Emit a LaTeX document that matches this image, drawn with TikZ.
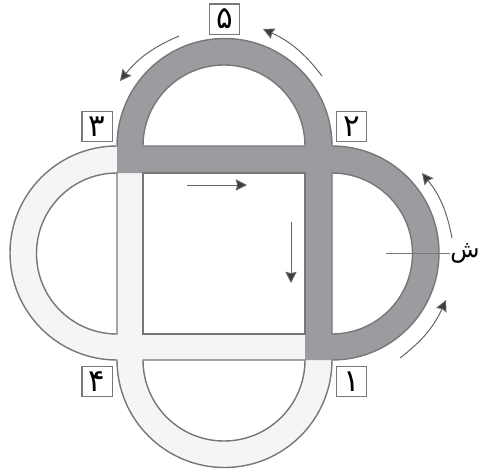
\documentclass[tikz,border=0pt]{standalone}
\usepackage{fontspec}
\usetikzlibrary{arrows.meta}
\TeXXeTstate=1
\newfontfamily\arabicfont[Script=Arabic]{DejaVu Sans}
\definecolor{bandlight}{HTML}{F5F5F5}
\definecolor{banddark}{HTML}{9A9C9F}
\definecolor{edgegray}{HTML}{777777}
\definecolor{arrowgray}{HTML}{3C3C3C}
\begin{document}
\begin{tikzpicture}[x=0.025cm,y=0.025cm]
	\tikzset{band_edge/.style={draw=edgegray,line width=1pt}}
	\tikzset{hole/.style={fill=white}}
	\tikzset{num_box/.style={draw=edgegray,line width=1pt,minimum size=0.76cm,inner sep=0pt,font=\arabicfont\fontsize{22}{22}\selectfont}}
	\tikzset{flow_arrow/.style={draw=arrowgray!80,line width=0.7pt,-{Stealth[length=8pt,width=8pt,fill=arrowgray,inset=1pt]}}}
	\useasboundingbox (0,0) rectangle (480,470);
	% bands
	\fill[bandlight] (117,324) arc[start angle=90,end angle=270,radius=107] arc[start angle=180,end angle=360,radius=107.5] -- (332,324) -- cycle;
	\fill[banddark] (117,297) -- (117,324) arc[start angle=180,end angle=0,radius=107.5] arc[start angle=90,end angle=-90,radius=107] -- (305,110) -- (305,297) -- cycle;
	% holes
	\draw[band_edge,hole] (143,324) arc[start angle=180,end angle=0,radius=81] -- cycle;
	\draw[band_edge,hole] (332,297) arc[start angle=90,end angle=-90,radius=80.5] -- cycle;
	\draw[band_edge,hole] (117,297) arc[start angle=90,end angle=270,radius=80.5] -- cycle;
	\draw[band_edge,hole] (143,110) arc[start angle=180,end angle=360,radius=81] -- cycle;
	\draw[band_edge,hole] (143,297) rectangle (305,136);
	% outer edges
	\draw[band_edge] (117,324) arc[start angle=180,end angle=0,radius=107.5];
	\draw[band_edge] (332,324) arc[start angle=90,end angle=-90,radius=107];
	\draw[band_edge] (117,324) arc[start angle=90,end angle=270,radius=107];
	\draw[band_edge] (117,110) arc[start angle=180,end angle=360,radius=107.5];
	% numbers
	\node[num_box] (n1) at (351.5,88.5) {\beginR ۱\endR};
	\node[num_box] (n2) at (351.5,343.5) {\beginR ۲\endR};
	\node[num_box] (n3) at (97,343.5) {\beginR ۳\endR};
	\node[num_box] (n4) at (97,88.5) {\beginR ۴\endR};
	\node[num_box] (n5) at (224.5,451) {\beginR ۵\endR};
	% arrows
	\draw[flow_arrow] (400,112) to[bend right=14] (446,170);
	\draw[flow_arrow] (452,232) to[bend right=14] (422,297);
	\draw[flow_arrow] (322,394) to[bend right=14] (263,441);
	\draw[flow_arrow] (179,434) to[bend right=14] (120,389);
	\draw[flow_arrow] (187,285) -- (247,285);
	\draw[flow_arrow] (291,248) -- (291,187);
	% cut label
	\coordinate (cut_end) at (386,217);
	\node[anchor=west,inner sep=0pt,font=\arabicfont\fontsize{17}{17}\selectfont] (cut_label) at (450,217) {\beginR ش\endR};
	\draw[draw=edgegray,line width=0.7pt] (cut_end) -- (cut_label.west);
\end{tikzpicture}
\end{document}
